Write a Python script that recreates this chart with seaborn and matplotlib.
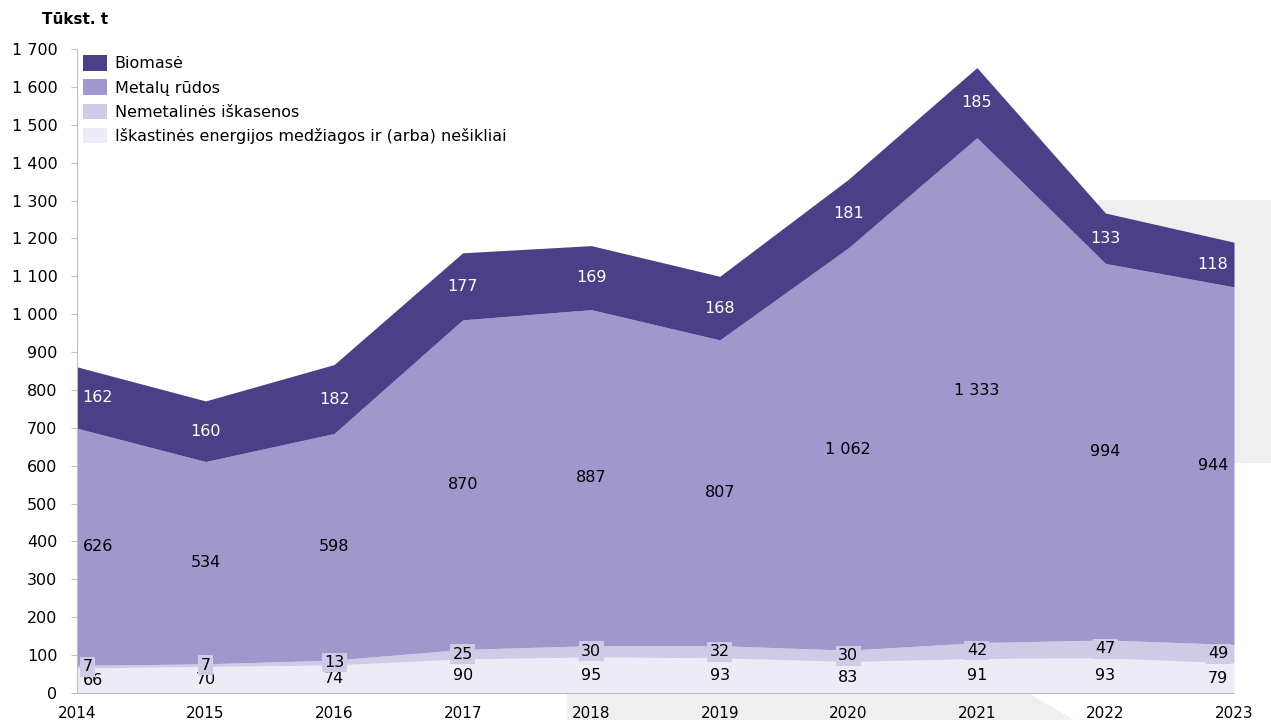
import matplotlib
matplotlib.use("Agg")
import matplotlib.pyplot as plt
import seaborn as sns
from matplotlib.patches import Polygon, Patch
from matplotlib.ticker import FuncFormatter, MultipleLocator

# data (thousand tonnes)
years = [2014, 2015, 2016, 2017, 2018, 2019, 2020, 2021, 2022, 2023]
fossil = [66, 70, 74, 90, 95, 93, 83, 91, 93, 79]
nonmetal = [7, 7, 13, 25, 30, 32, 30, 42, 47, 49]
metal = [626, 534, 598, 870, 887, 807, 1062, 1333, 994, 944]
biomass = [162, 160, 182, 177, 169, 168, 181, 185, 133, 118]

labels = ["Iškastinės energijos medžiagos ir (arba) nešikliai",
          "Nemetalinės iškasenos", "Metalų rūdos", "Biomasė"]
colors = ["#edebf6", "#cfcae6", "#a097cc", "#4b4088"]
text_colors = ["#000000", "#000000", "#000000", "#ffffff"]

sns.set_theme(style="white")
plt.rcParams["font.family"] = ["DejaVu Sans"]
plt.rcParams["text.color"] = "#000000"

W, H = 1271, 720
fig = plt.figure(figsize=(W / 100, H / 100), dpi=100)

# grey background decoration
def px(x, y):
    return (x / W, 1 - y / H)

grey = "#efefef"
fig.add_artist(Polygon([px(1098, 200), px(1271, 200), px(1271, 463), px(1098, 463)],
                       closed=True, facecolor=grey, edgecolor="none",
                       transform=fig.transFigure, zorder=-5))
fig.add_artist(Polygon([px(567, 693), px(1028, 693), px(1074, 720), px(567, 720)],
                       closed=True, facecolor=grey, edgecolor="none",
                       transform=fig.transFigure, zorder=-5))

ax = fig.add_axes([77 / W, 1 - 693 / H, (1234 - 77) / W, (693 - 49) / H])
ax.set_facecolor("none")

series = [fossil, nonmetal, metal, biomass]
ax.stackplot(years, *series, colors=colors, linewidth=0)

ax.set_xlim(years[0], years[-1])
ax.set_ylim(0, 1700)
ax.yaxis.set_major_locator(MultipleLocator(100))
ax.yaxis.set_major_formatter(FuncFormatter(lambda v, p: f"{v:,.0f}".replace(",", " ")))
ax.set_xticks(years)
ax.tick_params(axis="y", which="major", left=True, length=4, width=0.8,
               color="#bfbfbf", labelsize=11.5, pad=10, labelcolor="#000000")
ax.tick_params(axis="x", bottom=False, labelsize=11, pad=3, labelcolor="#000000")

for side in ["top", "right"]:
    ax.spines[side].set_visible(False)
for side in ["left", "bottom"]:
    ax.spines[side].set_color("#bfbfbf")
    ax.spines[side].set_linewidth(0.8)

# value labels at the middle of each band
base = [0] * len(years)
for k, vals in enumerate(series):
    for i, (yr, v) in enumerate(zip(years, vals)):
        mid = base[i] + v / 2
        if i == 0:
            ha, dx = "left", 4
        elif i == len(years) - 1:
            ha, dx = "right", -4
        else:
            ha, dx = "center", 0
        kw = {}
        if k == 1:
            kw["bbox"] = dict(boxstyle="square,pad=0.15", facecolor=colors[1], edgecolor="none")
        ax.annotate(f"{v:,}".replace(",", " "), (yr, mid), xytext=(dx, 0),
                    textcoords="offset points", ha=ha, va="center",
                    fontsize=11.5, color=text_colors[k], **kw)
    base = [b + v for b, v in zip(base, vals)]

handles = [Patch(facecolor=c, edgecolor="none") for c in colors][::-1]
ax.legend(handles, labels[::-1], loc="upper left", bbox_to_anchor=(0.0, 1.0),
          frameon=False, fontsize=11.5, handlelength=1.5, handleheight=1.1,
          labelspacing=0.5, handletextpad=0.45, borderaxespad=0.0, borderpad=0.4,
          labelcolor="#000000")

fig.text(42 / W, 1 - 19 / H, "Tūkst. t", fontsize=11, fontweight="bold",
         ha="left", va="center", color="#000000")

fig.savefig("out.png", dpi=100)
